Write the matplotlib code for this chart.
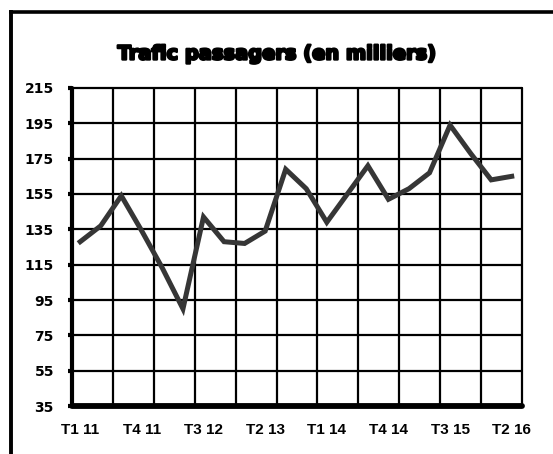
import matplotlib
matplotlib.use("Agg")
import matplotlib.pyplot as plt
import matplotlib.patheffects as pe
import numpy as np
from matplotlib.lines import Line2D

title = "Trafic passagers (en milliers)"
quarters = ["T1 11", "T2 11", "T3 11", "T4 11",
            "T1 12", "T2 12", "T3 12", "T4 12",
            "T1 13", "T2 13", "T3 13", "T4 13",
            "T1 14", "T2 14", "T3 14", "T4 14",
            "T1 15", "T2 15", "T3 15", "T4 15",
            "T1 16", "T2 16"]
values = [128, 137, 154, 134, 113, 90, 142, 128, 127, 134, 169, 158,
          139, 155, 171, 152, 158, 167, 194, 178, 163, 165]
y_ticks = [35, 55, 75, 95, 115, 135, 155, 175, 195, 215]

W, H = 553, 454
fig = plt.figure(figsize=(W / 100, H / 100), dpi=100)
fig.patch.set_facecolor("white")

# outer frame (left and top edges visible)
fig.add_artist(Line2D([11 / W, 11 / W], [0, 1 - 11.5 / H], color="black", lw=2.8,
                      transform=fig.transFigure, solid_capstyle="projecting"))
fig.add_artist(Line2D([11 / W, 1], [1 - 11.5 / H, 1 - 11.5 / H], color="black", lw=2.6,
                      transform=fig.transFigure, solid_capstyle="projecting"))

ax = fig.add_axes([72 / W, 1 - 406 / H, (522 - 72) / W, (406 - 88) / H])
x = np.arange(len(values))
ax.plot(x, values, color="#363636", lw=3.6, solid_joinstyle="miter", zorder=5)

ax.set_xlim(-0.4, 21.5)
ax.set_ylim(35, 215)

for gx in np.linspace(-0.4, 21.5, 12)[1:-1]:
    ax.axvline(gx, color="black", lw=1.6, zorder=2)
for gy in y_ticks[1:-1]:
    ax.axhline(gy, color="black", lw=1.6, zorder=2)

ax.set_yticks(y_ticks)
ax.set_yticklabels([str(v) for v in y_ticks])
lab_idx = list(range(0, len(quarters), 3))
ax.set_xticks(lab_idx)
ax.set_xticklabels([quarters[i] for i in lab_idx])

for lab in ax.get_yticklabels():
    lab.set_fontfamily("DejaVu Sans")
    lab.set_fontweight("bold")
    lab.set_fontsize(10)
    lab.set_color("black")
for lab in ax.get_xticklabels():
    lab.set_fontfamily("Liberation Sans")
    lab.set_fontweight("bold")
    lab.set_fontsize(11)
    lab.set_color("black")

ax.tick_params(axis="y", length=3, width=3, pad=10, direction="out")
ax.tick_params(axis="x", length=0, pad=12)

ax.spines["left"].set_linewidth(3.0)
ax.spines["bottom"].set_linewidth(4.2)
ax.spines["top"].set_linewidth(1.6)
ax.spines["right"].set_linewidth(1.6)
for s in ax.spines.values():
    s.set_color("black")
    s.set_capstyle("round")

fig.text(277 / W, 1 - 54 / H, title, ha="center", va="center",
         fontsize=14, fontweight="heavy", family="DejaVu Sans", color="black",
         path_effects=[pe.withStroke(linewidth=1.7, foreground="black")])

fig.savefig("out.png", dpi=100, facecolor="white")
